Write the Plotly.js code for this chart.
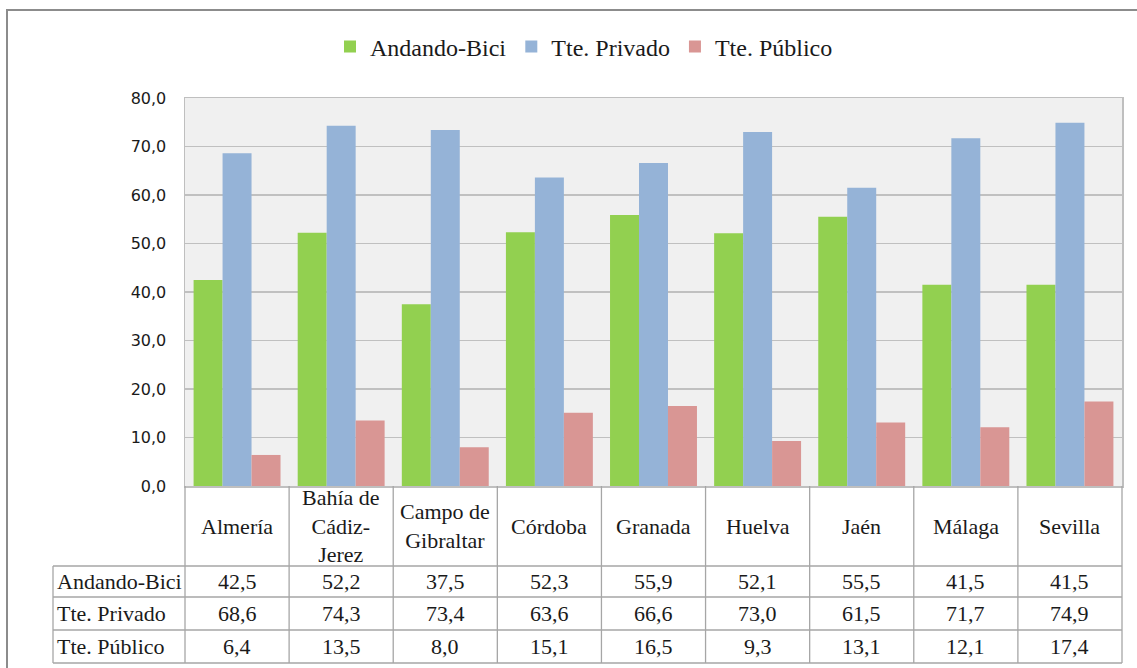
<!DOCTYPE html>
<html>
<head>
<meta charset="utf-8">
<script src="https://cdn.plot.ly/plotly-3.0.1.min.js"></script>
<style>
html,body{margin:0;padding:0;background:#fff;}
#chart{width:1137px;height:668px;}
</style>
</head>
<body>
<div id="chart"></div>
<script>
// ---- data ----
const categories = ["Almería","Bahía de Cádiz-Jerez","Campo de Gibraltar","Córdoba","Granada","Huelva","Jaén","Málaga","Sevilla"];
const headerLabels = ["Almería","Bahía de<br>Cádiz-<br>Jerez","Campo de<br>Gibraltar","Córdoba","Granada","Huelva","Jaén","Málaga","Sevilla"];
const seriesNames = ["Andando-Bici","Tte. Privado","Tte. Público"];
const andandoBici = [42.5,52.2,37.5,52.3,55.9,52.1,55.5,41.5,41.5];
const ttePrivado  = [68.6,74.3,73.4,63.6,66.6,73.0,61.5,71.7,74.9];
const ttePublico  = [6.4,13.5,8.0,15.1,16.5,9.3,13.1,12.1,17.4];
const yTickVals = [0,10,20,30,40,50,60,70,80];

const seriesValues = [andandoBici, ttePrivado, ttePublico];
const colors = ["#92D050","#95B3D7","#D99694"];

// ---- layout geometry ----
const W = 1137, H = 668;
const M = {l:185, r:15, t:98, b:182};
const plotW = W - M.l - M.r, plotH = H - M.t - M.b;
const px2x = p => (p - M.l) / plotW;
const py2y = p => (H - M.b - p) / plotH;

const fmt = v => v.toFixed(1).replace('.', ',');

const traces = seriesNames.map((name, i) => ({
  type: 'bar',
  name: name,
  x: categories,
  y: seriesValues[i],
  marker: {color: colors[i], line: {width: 0}},
  hoverinfo: 'x+y+name'
}));

// table geometry (pixels)
const tblLeft = 53, headTop = 486, headBottom = 566;
const rowBounds = [566, 597, 630, 663];
const lineColor = '#a6a6a6';
const nCat = categories.length;
const shapes = [];
const annotations = [];

// outer chart frame
shapes.push({type:'rect', xref:'paper', yref:'paper', x0:px2x(7), x1:px2x(1150), y0:py2y(10), y1:py2y(680),
  line:{color:'#8c8c8c', width:2}, fillcolor:'rgba(0,0,0,0)', layer:'below'});

// vertical column lines in header + rows
for (let k = 0; k <= nCat; k++) {
  const xx = k / nCat;
  shapes.push({type:'line', xref:'paper', yref:'paper', x0:xx, x1:xx, y0:py2y(headTop), y1:py2y(rowBounds[3]),
    line:{color:lineColor, width:1.3}});
}
// left column vertical line
shapes.push({type:'line', xref:'paper', yref:'paper', x0:px2x(tblLeft), x1:px2x(tblLeft), y0:py2y(rowBounds[0]), y1:py2y(rowBounds[3]),
  line:{color:lineColor, width:1.3}});
// horizontal lines
rowBounds.forEach(rb => {
  shapes.push({type:'line', xref:'paper', yref:'paper', x0:px2x(tblLeft), x1:1, y0:py2y(rb), y1:py2y(rb),
    line:{color:lineColor, width:1.3}});
});

const serif = 'Liberation Serif';
const tableFont = {family: serif, size:22, color:'#1a1a1a'};

// header labels
headerLabels.forEach((lab, k) => {
  annotations.push({xref:'x', yref:'paper', x:categories[k], y:py2y((headTop+headBottom)/2),
    text:lab, showarrow:false, font:tableFont, xanchor:'center', yanchor:'middle', align:'center'});
});
// row labels + values
seriesNames.forEach((name, i) => {
  const cy = py2y((rowBounds[i] + rowBounds[i+1]) / 2);
  annotations.push({xref:'paper', yref:'paper', x:px2x(tblLeft+2), y:cy, text:name, showarrow:false,
    font:tableFont, xanchor:'left', yanchor:'middle'});
  seriesValues[i].forEach((v, k) => {
    annotations.push({xref:'x', yref:'paper', x:categories[k], y:cy, text:fmt(v), showarrow:false,
      font:tableFont, xanchor:'center', yanchor:'middle'});
  });
});

const layout = {
  width: W, height: H,
  margin: M,
  paper_bgcolor: '#ffffff',
  plot_bgcolor: '#f0f0f0',
  barmode: 'group',
  bargap: 0.165,
  bargroupgap: 0,
  showlegend: true,
  legend: {
    orientation: 'h', x: px2x(584), xanchor: 'center', y: py2y(47), yanchor: 'middle',
    font: {family: serif, size:24, color:'#1a1a1a'},
    itemwidth: 30, traceorder: 'normal', bgcolor:'rgba(0,0,0,0)'
  },
  xaxis: {
    type: 'category',
    showticklabels: false,
    showgrid: false,
    zeroline: false,
    showline: true, linecolor: '#bfbfbf', linewidth: 1.5, mirror: true,
    ticks: ''
  },
  yaxis: {
    range: [0, 80],
    tickvals: yTickVals,
    ticktext: yTickVals.map(fmt),
    showgrid: true, gridcolor: '#c0c0c0', gridwidth: 1.5,
    zeroline: false,
    showline: true, linecolor: '#bfbfbf', linewidth: 1.5, mirror: true,
    ticks: '',
    ticklabelstandoff: 14,
    tickfont: {family:'DejaVu Sans', size:16, color:'#1a1a1a'}
  },
  shapes: shapes,
  annotations: annotations
};

Plotly.newPlot('chart', traces, layout, {displayModeBar:false, staticPlot:true});
</script>
</body>
</html>
